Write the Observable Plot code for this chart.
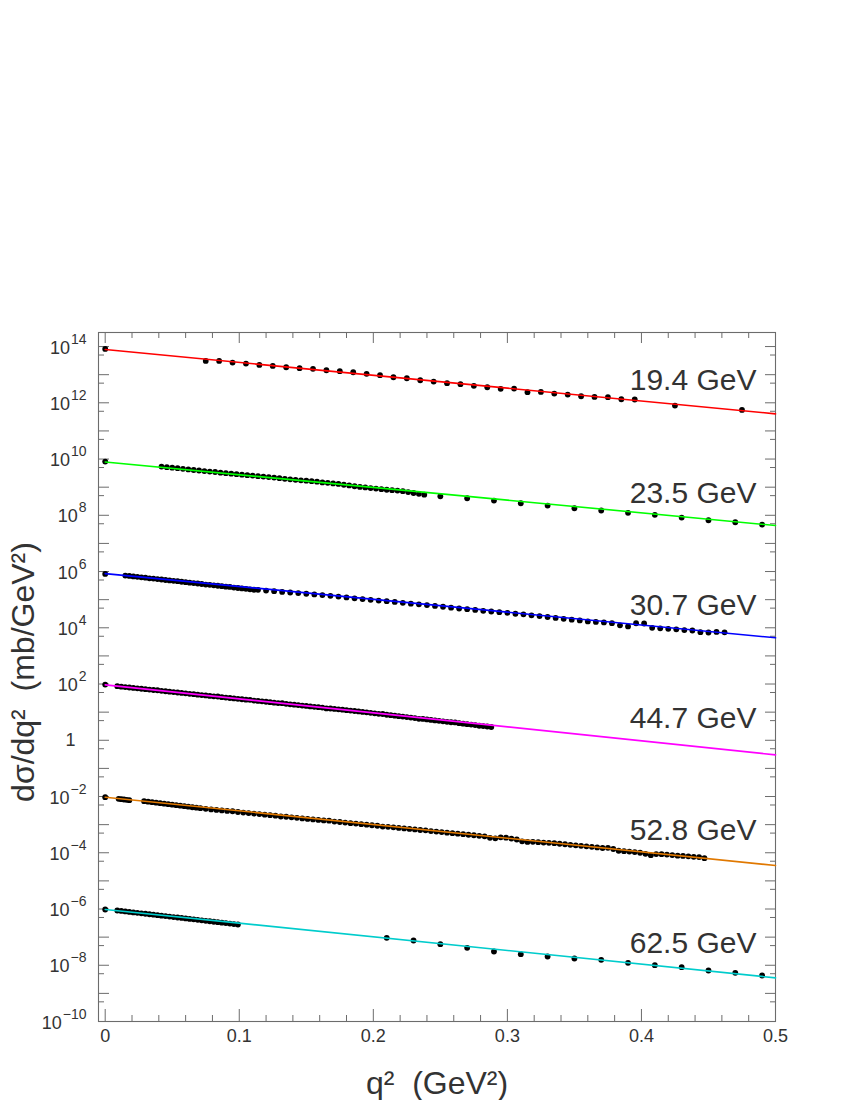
<!DOCTYPE html>
<html>
<head>
<meta charset="utf-8">
<script src="https://cdn.jsdelivr.net/npm/d3@7"></script>
<script src="https://cdn.jsdelivr.net/npm/@observablehq/plot@0.6"></script>
<style>
  html, body { margin: 0; padding: 0; background: #ffffff; }
</style>
</head>
<body>
<div id="chart"></div>
<script>
// ---------- series meta ----------
const energyLabels = ["19.4 GeV", "23.5 GeV", "30.7 GeV", "44.7 GeV", "52.8 GeV", "62.5 GeV"];
const lineColors   = ["#ff0000", "#00ff00", "#0000ff", "#ff00ff", "#e07800", "#00cccc"];
const scaleFactors = [1e12, 1e8, 1e4, 1, 1e-4, 1e-8];
// exponential fits, value (mb/GeV^2) at q^2 = 0 and q^2 = 0.5
const fitQ     = [0, 0.5];
const fitStart = [78.2, 78.2, 84.0, 93.5, 94.6, 96.0];
const fitEnd   = [0.405, 0.433, 0.44, 0.303, 0.352, 0.357];

// ---------- data (q^2 in GeV^2, dsigma/dq^2 in mb/GeV^2) ----------
const q194 = [0,
  0.075,0.085,0.095,0.105,0.115,0.125,0.135,0.145,0.155,0.165,
  0.175,0.185,0.195,0.205,0.215,0.225,0.235,0.245,0.255,0.265,
  0.275,0.285,0.295,0.305,0.315,0.325,0.335,0.345,0.355,0.365,
  0.375,0.385,0.395,0.425,0.475];
const v194 = [82.6,
  30.9,30.9,27.0,24.9,22.3,20.5,18.4,17.0,16.1,14.4,
  13.3,12.2,10.7,9.57,8.12,7.48,6.35,5.70,4.97,4.58,
  4.00,3.58,3.13,3.21,2.38,2.44,2.13,1.96,1.71,1.62,
  1.58,1.34,1.31,0.80,0.56];

const q235 = [0,
  0.042,0.046,0.050,0.054,0.058,0.062,0.066,0.070,0.074,0.078,
  0.082,0.086,0.090,0.094,0.098,0.102,0.106,0.110,0.114,0.118,
  0.122,0.126,0.130,0.134,0.138,0.142,0.146,0.150,0.154,0.158,
  0.162,0.166,0.170,0.174,0.178,0.182,0.186,0.190,0.194,0.198,
  0.202,0.206,0.210,0.214,0.218,0.222,0.226,0.230,0.234,0.238,
  0.25,0.27,0.29,0.31,0.33,0.35,0.37,0.39,0.41,0.43,0.45,0.47,0.49];
const v235 = [81.5,
  54.1,51.5,49.4,47.2,44.8,42.9,40.8,39.2,37.3,35.9,
  34.6,32.8,31.5,30.2,29.0,27.9,26.7,25.8,24.6,23.8,
  22.9,22.0,20.9,19.8,19.0,18.2,17.5,17.0,16.3,15.7,
  14.8,14.3,13.6,13.0,12.2,11.5,10.8,10.2,9.8,9.3,
  8.9,8.5,8.1,7.8,7.6,7.2,6.7,6.2,5.8,5.4,
  4.75,4.04,3.34,2.68,2.22,1.78,1.48,1.22,1.04,0.832,0.667,0.566,0.469];

const q307 = [0,
  0.015,0.018,0.021,0.024,0.027,0.030,0.033,0.036,0.039,0.042,
  0.045,0.048,0.051,0.054,0.057,0.060,0.063,0.066,0.069,0.072,
  0.075,0.078,0.081,0.084,0.087,0.090,0.093,0.096,0.099,0.102,
  0.105,0.108,0.111,
  0.114,0.120,0.126,0.132,0.138,0.144,0.150,0.156,0.162,0.168,
  0.174,0.180,0.186,0.192,0.198,0.204,0.210,0.216,0.222,0.228,
  0.234,0.240,0.246,0.252,0.258,0.264,0.270,0.276,0.282,0.288,
  0.294,0.300,0.306,0.312,0.318,0.324,0.330,0.336,0.342,0.348,
  0.354,0.360,0.366,0.372,0.378,0.384,0.390,0.396,0.402,0.408,
  0.414,0.420,0.426,0.432,0.438,0.444,0.450,0.456,0.462];
const v307 = [82.6,
  72.1,69.6,67.0,64.8,62.4,60.3,57.2,56.0,54.0,52.1,
  50.1,48.4,46.6,45.6,43.3,41.8,40.3,38.8,37.5,36.1,
  34.3,33.6,32.4,31.2,30.1,29.0,28.4,27.0,26.0,25.1,
  24.2,23.3,22.5,
  22.3,21.1,20.0,18.9,18.0,17.1,16.2,15.4,14.6,13.7,
  12.9,12.0,11.2,10.5,9.9,9.3,8.8,8.3,7.7,7.2,
  6.8,6.4,6.0,5.6,5.2,4.85,4.6,4.3,4.0,3.8,
  3.6,3.4,3.15,3.0,2.78,2.6,2.42,2.25,2.08,1.95,
  1.82,1.68,1.62,1.55,1.46,1.22,1.12,1.45,1.42,1.0,
  0.96,0.92,0.88,0.83,0.80,0.70,0.68,0.71,0.69];

const q447 = [0,
  0.009,0.012,0.015,0.018,0.021,0.024,0.027,0.030,0.033,0.036,
  0.039,0.042,0.045,0.048,0.051,0.054,0.057,0.060,0.063,0.066,
  0.069,0.072,0.075,0.078,0.081,0.084,0.087,0.090,0.093,0.096,
  0.099,0.102,0.105,0.108,0.111,0.114,0.117,0.120,0.123,0.126,
  0.129,0.132,0.135,0.138,0.141,0.144,0.147,0.150,0.153,0.156,
  0.159,0.162,0.165,0.168,0.171,0.174,0.177,0.180,0.183,0.186,
  0.189,0.192,0.195,0.198,0.201,0.204,0.207,0.210,0.213,0.216,
  0.219,0.222,0.225,0.228,0.231,0.234,0.237,0.240,0.243,0.246,
  0.249,0.252,0.255,0.258,0.261,0.264,0.267,0.270,0.273,0.276,
  0.279,0.282,0.285,0.288];
const v447 = [95.9,
  83.6,80.7,78.0,75.4,72.8,70.4,68.0,65.7,63.5,61.3,
  60.2,57.2,55.3,53.4,51.6,49.9,48.2,46.6,45.0,43.5,
  42.0,40.6,39.2,37.9,36.6,36.0,34.2,33.0,31.9,30.8,
  29.8,28.8,27.8,27.5,25.9,25.1,24.2,23.4,22.6,21.8,
  21.1,20.9,19.7,19.0,18.4,17.8,17.2,16.6,16.0,15.5,
  15.0,14.5,13.6,13.5,13.0,12.6,12.2,11.8,11.4,11.0,
  10.6,10.2,9.82,9.45,9.09,8.75,8.6,8.10,7.79,7.50,
  7.22,6.94,6.68,6.43,6.18,5.8,5.73,5.51,5.30,5.10,
  4.91,4.72,4.54,4.37,4.3,4.05,3.89,3.75,3.61,3.47,
  3.28,3.21,3.09,2.97];

const q528 = [0,
  0.010,0.012,0.014,0.016,0.018,
  0.029,0.032,0.035,0.038,0.041,0.044,0.047,0.050,0.053,0.056,
  0.059,0.062,0.065,0.068,0.071,
  0.075,0.079,0.083,0.087,0.091,0.095,0.099,0.103,0.107,0.111,
  0.115,0.119,0.123,0.127,0.131,0.135,0.139,0.143,0.147,0.151,
  0.155,0.159,0.163,0.167,0.171,0.175,0.179,0.183,0.187,0.191,
  0.195,0.199,0.203,0.207,0.211,0.215,0.219,0.223,0.227,0.231,
  0.235,0.239,0.243,0.247,0.251,0.255,0.259,0.263,0.267,0.271,
  0.275,0.279,0.283,0.287,0.291,0.295,0.299,0.303,0.307,0.311,
  0.315,0.319,0.323,0.327,0.331,0.335,0.339,0.343,0.347,0.351,
  0.355,0.359,0.363,0.367,0.371,0.375,0.379,0.383,0.387,0.391,
  0.395,0.399,0.403,0.407,0.411,0.415,0.419,0.423,0.427,0.431,
  0.435,0.439,0.443,0.447];
const v528 = [94.6,
  82.6,80.5,78.3,76.0,74.1,
  68.2,65.5,62.8,60.3,57.9,55.5,53.3,51.1,49.1,47.1,
  45.2,43.4,41.6,40.0,38.4,
  36.5,34.9,33.4,32.0,30.7,29.9,28.1,26.9,25.8,24.7,
  23.7,22.6,21.7,20.8,19.5,19.1,18.2,17.5,16.7,16.0,
  15.3,14.7,14.1,13.8,12.9,12.4,11.8,11.3,10.9,10.4,
  9.95,9.53,9.12,8.55,8.37,8.02,7.67,7.35,7.05,6.74,
  6.46,6.3,5.92,5.67,5.43,5.20,4.98,4.77,4.57,4.37,
  4.19,4.01,3.84,3.40,3.25,3.55,3.45,3.20,2.96,2.55,
  2.42,2.45,2.38,2.30,2.25,2.19,2.09,2.01,1.92,1.84,
  1.76,1.69,1.62,1.55,1.48,1.50,1.36,1.18,1.14,1.10,
  1.06,1.00,0.92,0.82,0.90,0.89,0.86,0.83,0.79,0.77,
  0.75,0.72,0.70,0.64];

const q625 = [0,
  0.009,0.012,0.015,0.018,0.021,0.024,0.027,0.030,0.033,0.036,
  0.039,0.042,0.045,0.048,0.051,0.054,0.057,0.060,0.063,0.066,
  0.069,0.072,0.075,0.078,0.081,0.084,0.087,0.090,0.093,0.096,
  0.099,
  0.21,0.23,0.25,0.27,0.29,0.31,0.33,0.35,0.37,0.39,0.41,0.43,0.45,0.47,0.49];
const v625 = [96.0,
  88.5,85.2,82.0,78.9,75.9,73.1,70.3,67.7,65.2,62.7,
  60.4,58.1,55.9,53.8,51.8,49.9,48.0,46.2,44.5,42.8,
  41.2,39.6,38.1,36.7,35.3,34.0,32.7,31.5,30.3,29.2,
  28.1,
  9.44,7.59,5.61,4.16,3.08,2.48,2.05,1.74,1.56,1.22,1.01,0.855,0.650,0.538,0.433];

// ---------- tick definitions ----------
const xMajor = [0, 0.1, 0.2, 0.3, 0.4, 0.5];
const xTickLabels = ["0", "0.1", "0.2", "0.3", "0.4", "0.5"];
const xMinor = [0.02,0.04,0.06,0.08,0.12,0.14,0.16,0.18,0.22,0.24,0.26,0.28,0.32,0.34,0.36,0.38,0.42,0.44,0.46,0.48];
const yDecadeExps = [-10,-9,-8,-7,-6,-5,-4,-3,-2,-1,0,1,2,3,4,5,6,7,8,9,10,11,12,13,14];
const yLabelExps = [14,12,10,8,6,4,2,0,-2,-4,-6,-8,-10];
const labelLevel = 2.8; // label baseline, in units of each series' scale factor

// ---------- build ----------
const seriesQ = [q194, q235, q307, q447, q528, q625];
const seriesV = [v194, v235, v307, v447, v528, v625];

const dots = seriesQ.flatMap((qs, i) => qs.map((q, j) => ({q, y: seriesV[i][j] * scaleFactors[i]})));
const fits = seriesQ.map((_, i) => fitQ.map((q, j) => ({q, y: (j === 0 ? fitStart[i] : fitEnd[i]) * scaleFactors[i]})));

const W = 850, H = 1100;
const mL = 98, mR = 75, mT = 332, mB = 79;
const innerW = W - mL - mR, innerH = H - mT - mB;
const tickColor = "#6c6c6c";
const textColor = "#333333";
const FONT = "'Liberation Sans', Arial, Helvetica, sans-serif";

const decadeTicks = yDecadeExps.map(e => 10 ** e);
const halfTicks = yDecadeExps.slice(1).map(e => 5 * 10 ** (e - 1));

const expFont = 14;
const expText = e => (e < 0 ? "\u2212" + String(-e) : String(e));
const expWidth = e => { const s = expText(e); let w = 0; for (const c of s) w += (c === "\u2212" ? 0.584 : 0.556) * expFont; return w; };

const yLabelMarks = yLabelExps.flatMap(e => {
  if (e === 0) {
    return [Plot.text([e], {y: d => 10 ** d, frameAnchor: "left", textAnchor: "end", lineAnchor: "bottom",
      dx: -23, dy: 6, text: () => "1", fontSize: 18, fill: textColor})];
  }
  const w = expWidth(e);
  return [
    Plot.text([e], {y: d => 10 ** d, frameAnchor: "left", textAnchor: "end", lineAnchor: "bottom",
      dx: -12, dy: -3, text: d => expText(d), fontSize: expFont, fill: textColor}),
    Plot.text([e], {y: d => 10 ** d, frameAnchor: "left", textAnchor: "end", lineAnchor: "bottom",
      dx: -12 - w - 1, dy: 7, text: () => "10", fontSize: 18, fill: textColor})
  ];
});

const chart = Plot.plot({
  width: W, height: H,
  marginLeft: mL, marginRight: mR, marginTop: mT, marginBottom: mB,
  style: {fontFamily: FONT, background: "#ffffff", color: textColor},
  x: {domain: [-0.005, 0.5], axis: null},
  y: {type: "log", domain: [1e-10, 10 ** 14.5], axis: null},
  marks: [
    // inward ticks, all four sides
    Plot.ruleX(xMajor, {x: d => d, insetTop: innerH - 12, stroke: tickColor}),
    Plot.ruleX(xMajor, {x: d => d, insetBottom: innerH - 11, stroke: tickColor}),
    Plot.ruleX(xMinor, {x: d => d, insetTop: innerH - 6, stroke: tickColor}),
    Plot.ruleX(xMinor, {x: d => d, insetBottom: innerH - 6, stroke: tickColor}),
    Plot.ruleY(decadeTicks, {y: d => d, insetRight: innerW - 11, stroke: tickColor}),
    Plot.ruleY(decadeTicks, {y: d => d, insetLeft: innerW - 10, stroke: tickColor}),
    Plot.ruleY(halfTicks, {y: d => d, insetRight: innerW - 6, stroke: tickColor}),
    Plot.ruleY(halfTicks, {y: d => d, insetLeft: innerW - 5, stroke: tickColor}),
    Plot.frame({stroke: tickColor, strokeWidth: 1.1}),

    // data points
    Plot.dot(dots, {x: "q", y: "y", r: 2.9, fill: "#000000", stroke: "none"}),

    // fit lines
    ...fits.map((f, i) => Plot.line(f, {x: "q", y: "y", stroke: lineColors[i], strokeWidth: 1.6})),

    // energy labels
    Plot.text(d3.range(energyLabels.length), {
      y: i => labelLevel * scaleFactors[i], frameAnchor: "right", textAnchor: "end", lineAnchor: "bottom",
      dx: -19, text: i => energyLabels[i], fontSize: 30, fill: textColor
    }),

    // x tick labels
    Plot.text(xMajor, {x: d => d, frameAnchor: "bottom", lineAnchor: "top", dy: 8,
      text: (d, i) => xTickLabels[i], fontSize: 18, fill: textColor}),

    // y tick labels
    ...yLabelMarks,

    // axis titles
    Plot.text(["q\u00b2\u00a0\u00a0(GeV\u00b2)"], {frameAnchor: "bottom", lineAnchor: "bottom", dy: 72,
      text: d => d, fontSize: 32, fill: textColor}),
    Plot.text(["d\u03c3/dq\u00b2\u00a0\u00a0(mb/GeV\u00b2)"], {frameAnchor: "left", rotate: -90, dx: -65, dy: -5,
      lineAnchor: "bottom", textAnchor: "middle", text: d => d, fontSize: 32, fill: textColor})
  ]
});

document.getElementById("chart").appendChild(chart);
</script>
</body>
</html>
